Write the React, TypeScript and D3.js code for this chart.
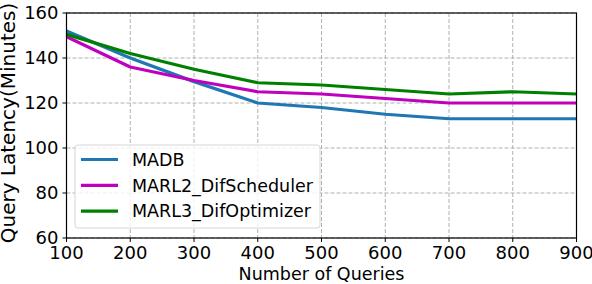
import React from 'react';
import * as d3 from 'd3';

const queries = [100, 200, 300, 400, 500, 600, 700, 800, 900];
const madb = [152, 140, 129.5, 120, 118, 115, 113, 113, 113];
const marl2 = [149.5, 136, 130, 125, 124, 122, 120, 120, 120];
const marl3 = [150.5, 142, 135, 129, 128, 126, 124, 125, 124];
const yTicks = [60, 80, 100, 120, 140, 160];

const series = [
  { name: 'MADB', values: madb, color: '#1f77b4' },
  { name: 'MARL2_DifScheduler', values: marl2, color: '#bf00bf' },
  { name: 'MARL3_DifOptimizer', values: marl3, color: '#008000' },
];

const W = 592;
const H = 284;
const margin = { top: 13, right: 15.5, bottom: 46, left: 66.5 };
const font = '"DejaVu Sans", sans-serif';

export default function App() {
  const x = d3.scaleLinear().domain([100, 900]).range([margin.left, W - margin.right]);
  const y = d3.scaleLinear().domain([60, 160]).range([H - margin.bottom, margin.top]);
  const line = d3.line<number>()
    .x((_, i) => x(queries[i]))
    .y(d => y(d));

  const x0 = x.range()[0], x1 = x.range()[1];
  const y0 = y.range()[0], y1 = y.range()[1];

  // legend box
  const lg = { x: 75, y: 145, w: 245, h: 83 };

  return (
    <svg width={W} height={H} style={{ position: 'absolute', left: 0, top: 0, fontFamily: font }}>
      <rect width={W} height={H} fill="#fff" />
      <defs>
        <clipPath id="plot">
          <rect x={x0} y={y1} width={x1 - x0} height={y0 - y1} />
        </clipPath>
      </defs>

      {/* grid */}
      {queries.map(q => (
        <line key={'gx' + q} x1={x(q)} x2={x(q)} y1={y1} y2={y0}
          stroke="#b0b0b0" strokeWidth={1} strokeDasharray="4,2" />
      ))}
      {yTicks.map(t => (
        <line key={'gy' + t} x1={x0} x2={x1} y1={y(t)} y2={y(t)}
          stroke="#b0b0b0" strokeWidth={1} strokeDasharray="4,2" />
      ))}

      {/* lines */}
      <g clipPath="url(#plot)">
        {series.map(s => (
          <path key={s.name} d={line(s.values) || ''} fill="none" stroke={s.color}
            strokeWidth={3.2} strokeLinejoin="round" strokeLinecap="square" />
        ))}
      </g>

      {/* spines */}
      <rect x={x0} y={y1} width={x1 - x0} height={y0 - y1} fill="none" stroke="#000" strokeWidth={1.2} />

      {/* x ticks */}
      {queries.map(q => (
        <g key={'tx' + q}>
          <line x1={x(q)} x2={x(q)} y1={y0} y2={y0 + 4} stroke="#000" strokeWidth={1} />
          <text x={x(q)} y={y0 + 20.5} textAnchor="middle" fontSize={18} fill="#000">{q}</text>
        </g>
      ))}
      {/* y ticks */}
      {yTicks.map(t => (
        <g key={'ty' + t}>
          <line x1={x0 - 4} x2={x0} y1={y(t)} y2={y(t)} stroke="#000" strokeWidth={1} />
          <text x={x0 - 8} y={y(t)} dy="0.36em" textAnchor="end" fontSize={18} fill="#000">{t}</text>
        </g>
      ))}

      {/* axis labels */}
      <text x={(x0 + x1) / 2} y={280} textAnchor="middle" fontSize={17.5} fill="#000">Number of Queries</text>
      <text transform={`translate(${15},${123}) rotate(-90)`} textAnchor="middle" fontSize={20} fill="#000">
        Query Latency(Minutes)
      </text>

      {/* legend */}
      <rect x={lg.x} y={lg.y} width={lg.w} height={lg.h} rx={3} fill="#fff" fillOpacity={0.8} stroke="#d6d6d6" strokeWidth={1} />
      {series.map((s, i) => {
        const ly = 159.5 + i * 25.8;
        return (
          <g key={'lg' + s.name}>
            <line x1={81} x2={118} y1={ly} y2={ly} stroke={s.color} strokeWidth={3.2} />
            <text x={132} y={ly} dy="0.36em" fontSize={17.5} fill="#000">{s.name}</text>
          </g>
        );
      })}
    </svg>
  );
}
